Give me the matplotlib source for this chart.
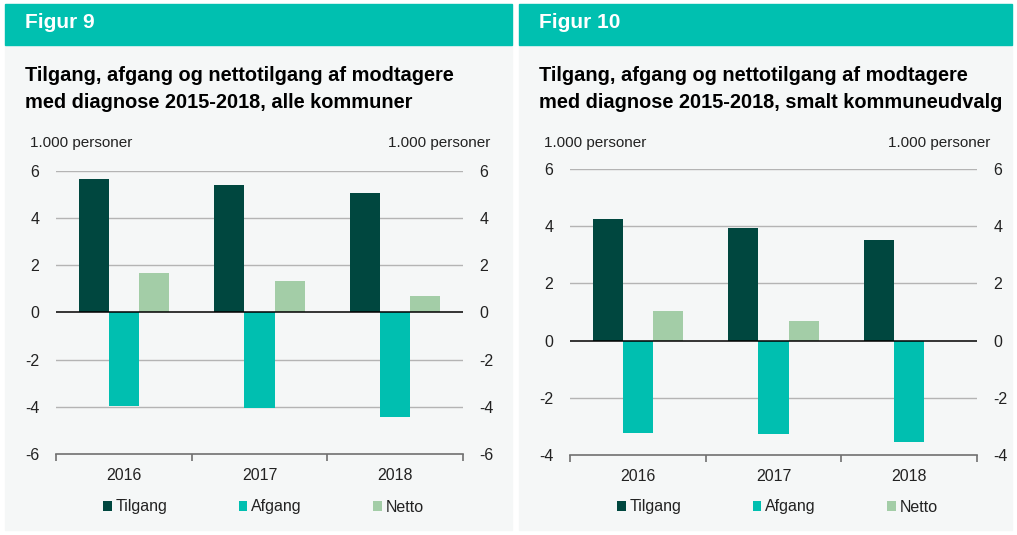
import matplotlib
matplotlib.use('Agg')
import matplotlib.pyplot as plt
from matplotlib.patches import Rectangle
import numpy as np

plt.rcParams['font.family'] = ['Liberation Sans', 'DejaVu Sans']
plt.rcParams['axes.unicode_minus'] = False

years = ["2016", "2017", "2018"]
series = ["Tilgang", "Afgang", "Netto"]

# Figur 9 - alle kommuner (1.000 personer)
tilgang_9 = [5.65, 5.39, 5.06]
afgang_9 = [-3.96, -4.04, -4.43]
netto_9 = [1.67, 1.35, 0.68]

# Figur 10 - smalt kommuneudvalg
tilgang_10 = [4.24, 3.92, 3.51]
afgang_10 = [-3.22, -3.25, -3.56]
netto_10 = [1.05, 0.70, -0.03]

colors = ["#00473f", "#00bfb0", "#a3cda7"]
TEAL = "#00c0b0"
PANEL_BG = "#f5f7f7"

W, H = 1017, 535
fig = plt.figure(figsize=(W / 100, H / 100), dpi=100)


def px(x, y):
    return x / W, 1 - y / H


def panel(x0, x1, label, title, data, ylim, yticks, ax_box):
    # header bar and grey panel, behind the axes
    fig.patches.append(Rectangle((x0 / W, 1 - 530 / H), (x1 - x0) / W, (530 - 45) / H,
                                 transform=fig.transFigure, color=PANEL_BG, zorder=-10))
    fig.patches.append(Rectangle((x0 / W, 1 - 45 / H), (x1 - x0) / W, 41 / H,
                                 transform=fig.transFigure, color=TEAL, zorder=-10))
    fig.text(*px(x0 + 20, 23), label, color="white", fontsize=15, fontweight="bold", va="center")
    fig.text(*px(x0 + 20, 89), title, color="black", fontsize=14.4, fontweight="bold",
             va="center", linespacing=1.5)

    left, top, right, bottom = ax_box
    ax = fig.add_axes([left / W, 1 - bottom / H, (right - left) / W, (bottom - top) / H])
    ax.set_facecolor("none")
    x = np.arange(len(years))
    w = 0.222
    for i, (vals, c, name) in enumerate(zip(data, colors, series)):
        ax.bar(x + (i - 1) * w, vals, w, color=c, label=name, zorder=3)
    ax.set_xlim(-0.5, 2.5)
    ax.set_ylim(*ylim)
    ax.set_yticks(yticks)
    ax.set_yticklabels([str(t) for t in yticks])
    for t in yticks:
        if t == 0:
            ax.axhline(0, color="black", lw=1.1, zorder=4)
        elif t != ylim[0]:
            ax.axhline(t, color="#b4b4b4", lw=1, zorder=1)
    for s in ["top", "left", "right"]:
        ax.spines[s].set_visible(False)
    ax.spines["bottom"].set_color("#707070")
    ax.spines["bottom"].set_linewidth(1.2)
    ax.tick_params(axis="y", length=0, pad=12, labelsize=11.5, labelleft=True, labelright=True,
                   colors="#222222")
    ax.set_xticks(x)
    ax.set_xticklabels(years)
    ax.set_xticks([-0.5, 0.5, 1.5, 2.5], minor=True)
    ax.tick_params(axis="x", which="major", length=0, pad=10, labelsize=11.5, colors="#222222")
    ax.tick_params(axis="x", which="minor", length=5, color="#707070", width=1.2)

    fig.text(*px(x0 + 25, 143), "1.000 personer", fontsize=11, va="center", color="#222222")
    fig.text(*px(x1 - 22, 143), "1.000 personer", fontsize=11, va="center", ha="right",
             color="#222222")

    leg = ax.legend(loc="center", bbox_to_anchor=((left + right) / 2 / W + 4 / W, 1 - 507 / H),
                    bbox_transform=fig.transFigure, ncol=3, frameon=False, fontsize=11.5,
                    handlelength=0.55, handleheight=0.6, handletextpad=0.25, columnspacing=4.45)
    for t in leg.get_texts():
        t.set_color("#222222")
    return ax


panel(5, 512, "Figur 9",
      "Tilgang, afgang og nettotilgang af modtagere\nmed diagnose 2015-2018, alle kommuner",
      [tilgang_9, afgang_9, netto_9], (-6, 6), [-6, -4, -2, 0, 2, 4, 6], (56, 171, 463, 454))
panel(519, 1012, "Figur 10",
      "Tilgang, afgang og nettotilgang af modtagere\nmed diagnose 2015-2018, smalt kommuneudvalg",
      [tilgang_10, afgang_10, netto_10], (-4, 6), [-4, -2, 0, 2, 4, 6], (570, 169, 977, 455))

fig.savefig("out.png", dpi=100, facecolor="white")
